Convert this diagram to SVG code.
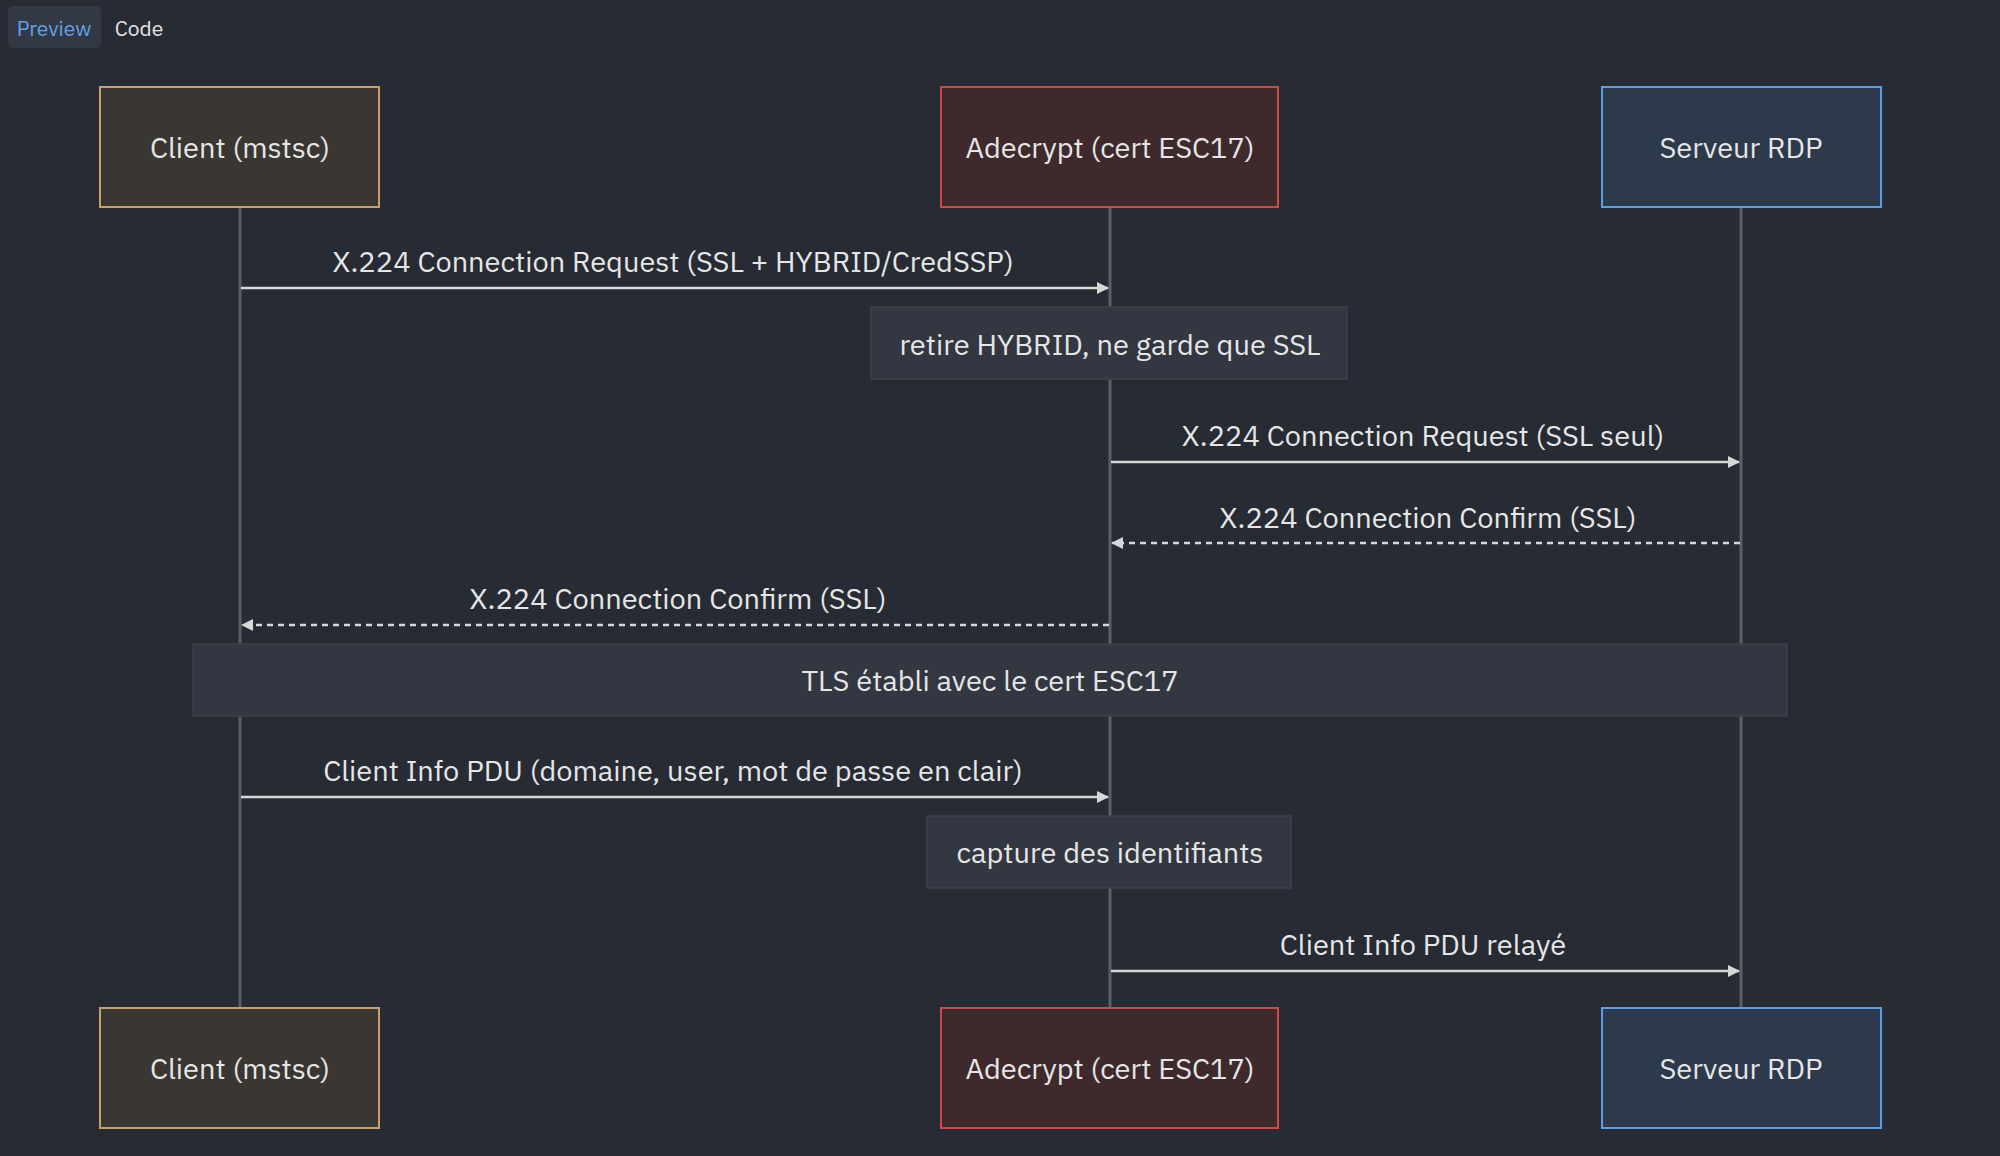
<svg xmlns="http://www.w3.org/2000/svg" width="2000" height="1156" viewBox="0 0 2000 1156">
<style>
text{font-family:"IBM Plex Sans","Noto Sans","Liberation Sans",sans-serif;fill:#e6e6e6;font-size:29px;text-anchor:middle;dominant-baseline:central}
.life{stroke:#5a5f68;stroke-width:3}
.msg{stroke:#d8d8d8;stroke-width:2.5;fill:none}
.dash{stroke-dasharray:6 5}
.note{fill:#323741;stroke:#3d424c;stroke-width:1.5}
.c{fill:#3a3631;stroke:#c9a06a;stroke-width:2}
.a{fill:#3e2a2d;stroke:#d04848;stroke-width:2}
.s{fill:#2c3a4b;stroke:#5d9fe6;stroke-width:2}
</style>
<defs>
<marker id="ah" markerWidth="12" markerHeight="12" refX="11" refY="6" orient="auto" markerUnits="userSpaceOnUse"><path d="M0,0 L12,6 L0,12 Z" fill="#d8d8d8"/></marker>
</defs>
<rect width="2000" height="1156" fill="#272b33"/>
<rect x="8" y="6" width="93" height="42" rx="5" fill="#323844"/>
<text x="54" y="28" style="fill:#5fa3ea;font-size:21px">Preview</text>
<text x="139" y="28" style="font-size:21px">Code</text>
<g id="lifelines">
<line class="life" x1="240" y1="207" x2="240" y2="1008"/>
<line class="life" x1="1110" y1="207" x2="1110" y2="1008"/>
<line class="life" x1="1741" y1="207" x2="1741" y2="1008"/>
</g>
<g id="client_top"><rect class="c" x="100" y="87" width="279" height="120"/><text x="240" y="147">Client (mstsc)</text></g>
<g id="adecrypt_top"><rect class="a" x="941" y="87" width="337" height="120"/><text x="1110" y="147">Adecrypt (cert ESC17)</text></g>
<g id="serveur_top"><rect class="s" x="1602" y="87" width="279" height="120"/><text x="1741" y="147">Serveur RDP</text></g>
<g id="client_bot"><rect class="c" x="100" y="1008" width="279" height="120"/><text x="240" y="1068">Client (mstsc)</text></g>
<g id="adecrypt_bot"><rect class="a" x="941" y="1008" width="337" height="120"/><text x="1110" y="1068">Adecrypt (cert ESC17)</text></g>
<g id="serveur_bot"><rect class="s" x="1602" y="1008" width="279" height="120"/><text x="1741" y="1068">Serveur RDP</text></g>
<g id="note1"><rect class="note" x="871" y="307" width="476" height="72"/><text x="1110" y="344">retire HYBRID, ne garde que SSL</text></g>
<g id="note_tls"><rect class="note" x="193" y="644" width="1594" height="72"/><text x="990" y="680">TLS établi avec le cert ESC17</text></g>
<g id="note2"><rect class="note" x="927" y="816" width="364" height="72"/><text x="1110" y="852">capture des identifiants</text></g>
<g id="connectors">
<line class="msg" x1="241" y1="288" x2="1108" y2="288" marker-end="url(#ah)"/>
<text x="673" y="261">X.224 Connection Request (SSL + HYBRID/CredSSP)</text>
<line class="msg" x1="1111" y1="462" x2="1739" y2="462" marker-end="url(#ah)"/>
<text x="1423" y="435">X.224 Connection Request (SSL seul)</text>
<line class="msg dash" x1="1740" y1="543" x2="1112" y2="543" marker-end="url(#ah)"/>
<text x="1428" y="517">X.224 Connection Confirm (SSL)</text>
<line class="msg dash" x1="1109" y1="625" x2="242" y2="625" marker-end="url(#ah)"/>
<text x="678" y="598">X.224 Connection Confirm (SSL)</text>
<line class="msg" x1="241" y1="797" x2="1108" y2="797" marker-end="url(#ah)"/>
<text x="673" y="770">Client Info PDU (domaine, user, mot de passe en clair)</text>
<line class="msg" x1="1111" y1="971" x2="1739" y2="971" marker-end="url(#ah)"/>
<text x="1423" y="944">Client Info PDU relayé</text>
</g>
</svg>
